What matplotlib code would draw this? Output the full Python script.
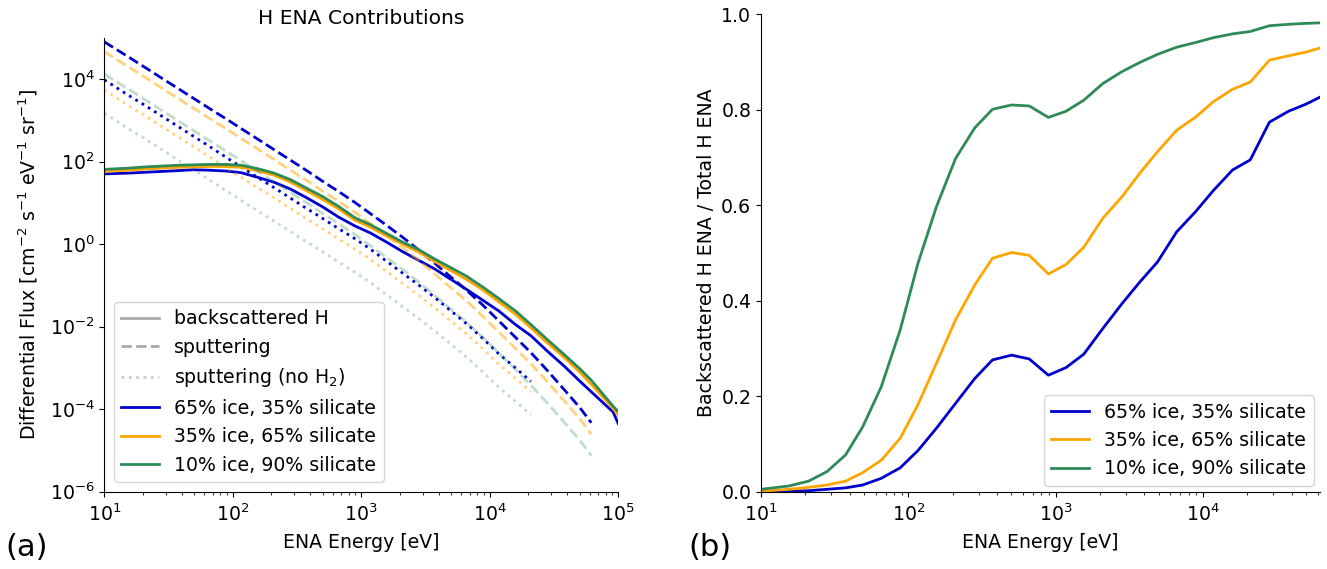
import numpy as np
import matplotlib
matplotlib.use("Agg")
import matplotlib.pyplot as plt
from matplotlib.lines import Line2D

# ENA energy grid [eV]
energy = [10, 15.5, 21, 28, 37.5, 49, 65.5, 88, 116, 155, 209, 282, 372, 501, 661,
          891, 1175, 1549, 2089, 2818, 3715, 4898, 6607, 8913, 11750, 15850, 20890,
          28180, 38020, 50120, 61700]
# backscattered H extends a bit further
energy_back = energy + [91200, 100000]
# no-H2 sputtering stops at ~2e4 eV
energy_noh2 = energy[:27]

labels = ["65% ice, 35% silicate", "35% ice, 65% silicate", "10% ice, 90% silicate"]
colors = ["mediumblue", "orange", "seagreen"]
sput_alpha = [1.0, 0.5, 0.3]

# log10 of differential flux
back_log = [
    [1.70, 1.72, 1.74, 1.76, 1.78, 1.80, 1.79, 1.77, 1.73, 1.62, 1.50, 1.33, 1.13, 0.90, 0.66,
     0.44, 0.27, 0.06, -0.18, -0.40, -0.60, -0.84, -1.10, -1.37, -1.62, -1.95, -2.22,
     -2.60, -2.96, -3.32, -3.58, -4.07, -4.35],
    [1.76, 1.79, 1.82, 1.84, 1.86, 1.87, 1.88, 1.88, 1.86, 1.78, 1.67, 1.50, 1.30, 1.08, 0.86,
     0.58, 0.41, 0.21, 0.00, -0.20, -0.42, -0.63, -0.86, -1.12, -1.40, -1.70, -2.03,
     -2.40, -2.75, -3.10, -3.40, -3.98, -4.15],
    [1.81, 1.84, 1.87, 1.89, 1.91, 1.92, 1.93, 1.93, 1.91, 1.83, 1.72, 1.56, 1.36, 1.15, 0.92,
     0.64, 0.47, 0.27, 0.05, -0.14, -0.36, -0.56, -0.78, -1.05, -1.32, -1.62, -1.95,
     -2.32, -2.68, -3.02, -3.30, -3.93, -4.06],
]
sput_log = [
    [4.90, 4.53, 4.27, 4.02, 3.77, 3.54, 3.29, 3.04, 2.80, 2.55, 2.29, 2.03, 1.79, 1.52, 1.28,
     1.01, 0.74, 0.47, 0.17, -0.15, -0.46, -0.78, -1.12, -1.49, -1.86, -2.26, -2.63,
     -3.07, -3.53, -3.96, -4.33],
    [4.66, 4.29, 4.03, 3.78, 3.53, 3.30, 3.05, 2.80, 2.56, 2.31, 2.05, 1.79, 1.55, 1.28, 1.04,
     0.77, 0.50, 0.23, -0.08, -0.40, -0.72, -1.04, -1.38, -1.76, -2.13, -2.53, -2.90,
     -3.34, -3.80, -4.23, -4.61],
    [4.12, 3.75, 3.49, 3.24, 2.99, 2.76, 2.51, 2.26, 2.02, 1.77, 1.51, 1.25, 1.01, 0.74, 0.50,
     0.23, -0.04, -0.31, -0.61, -0.93, -1.24, -1.56, -1.90, -2.27, -2.64, -3.04, -3.42,
     -3.86, -4.32, -4.75, -5.13],
]
noh2_log = [
    [3.98, 3.60, 3.35, 3.10, 2.85, 2.62, 2.37, 2.11, 1.87, 1.62, 1.37, 1.11, 0.87, 0.62, 0.38,
     0.13, -0.12, -0.40, -0.70, -1.00, -1.29, -1.60, -1.93, -2.30, -2.66, -3.00, -3.33],
    [3.73, 3.35, 3.10, 2.85, 2.60, 2.37, 2.12, 1.86, 1.62, 1.37, 1.12, 0.86, 0.62, 0.37, 0.13,
     -0.12, -0.37, -0.65, -0.95, -1.25, -1.54, -1.85, -2.18, -2.55, -2.91, -3.25, -3.58],
    [3.17, 2.79, 2.54, 2.29, 2.04, 1.81, 1.56, 1.30, 1.06, 0.81, 0.56, 0.30, 0.06, -0.19, -0.43,
     -0.68, -0.93, -1.21, -1.51, -1.81, -2.10, -2.41, -2.74, -3.11, -3.47, -3.81, -4.14],
]

# backscattered / total ratio
ratio = [
    [0.0, 0.001, 0.002, 0.005, 0.008, 0.014, 0.028, 0.050, 0.086, 0.133, 0.185, 0.237, 0.276,
     0.286, 0.278, 0.244, 0.260, 0.288, 0.342, 0.394, 0.439, 0.481, 0.544, 0.587, 0.631,
     0.674, 0.695, 0.774, 0.797, 0.812, 0.826],
    [0.001, 0.005, 0.009, 0.014, 0.022, 0.040, 0.066, 0.112, 0.182, 0.269, 0.360, 0.433, 0.489,
     0.501, 0.495, 0.456, 0.476, 0.512, 0.573, 0.618, 0.667, 0.712, 0.757, 0.785, 0.817,
     0.843, 0.858, 0.904, 0.913, 0.921, 0.929],
    [0.005, 0.012, 0.022, 0.042, 0.077, 0.136, 0.220, 0.339, 0.478, 0.597, 0.698, 0.762, 0.801,
     0.810, 0.808, 0.784, 0.797, 0.820, 0.855, 0.880, 0.899, 0.916, 0.931, 0.941, 0.951,
     0.959, 0.964, 0.976, 0.979, 0.981, 0.982],
]

plt.rcParams['font.size'] = 13.6

fig = plt.figure(figsize=(13.27, 5.69), dpi=100)
ax = fig.add_axes([0.0786, 0.1359, 0.3873, 0.7978])
bx = fig.add_axes([0.5735, 0.1359, 0.4209, 0.8390])

# Left panel: flux contributions
for i in range(3):
    ax.plot(energy_back, 10 ** np.array(back_log[i]), color=colors[i], lw=2)
    ax.plot(energy, 10 ** np.array(sput_log[i]), color=colors[i], lw=2, ls='--',
            alpha=sput_alpha[i])
    ax.plot(energy_noh2, 10 ** np.array(noh2_log[i]), color=colors[i], lw=2, ls=':',
            alpha=sput_alpha[i])

ax.set_xscale('log')
ax.set_yscale('log')
ax.set_xlim(10, 1e5)
ax.set_ylim(1e-6, 1e5)
ax.set_yticks([1e-6, 1e-4, 1e-2, 1e0, 1e2, 1e4])
ax.yaxis.set_minor_locator(matplotlib.ticker.NullLocator())
ax.tick_params(axis='x', pad=5)
ax.set_title('H ENA Contributions', fontsize=14.6, pad=10)
ax.set_xlabel('ENA Energy [eV]', labelpad=6)
ax.set_ylabel(r'Differential Flux [cm$^{-2}$ s$^{-1}$ eV$^{-1}$ sr$^{-1}$]', labelpad=7)
ax.spines['top'].set_visible(False)
ax.spines['right'].set_visible(False)

handles = [
    Line2D([], [], color='darkgray', lw=2, ls='-'),
    Line2D([], [], color='darkgray', lw=2, ls='--'),
    Line2D([], [], color='darkgray', lw=2, ls=':', alpha=0.6),
]
handles += [Line2D([], [], color=c, lw=2) for c in colors]
ax.legend(handles, ['backscattered H', 'sputtering', 'sputtering (no H$_2$)'] + labels,
          loc='lower left')

# Right panel: backscattered fraction
for i in range(3):
    bx.plot(energy, ratio[i], color=colors[i], lw=2, label=labels[i])

bx.set_xscale('log')
bx.set_xlim(10, energy[-1])
bx.set_ylim(0, 1)
bx.tick_params(axis='x', pad=5)
bx.set_xlabel('ENA Energy [eV]', labelpad=6)
bx.set_ylabel('Backscattered H ENA / Total H ENA')
bx.spines['top'].set_visible(False)
bx.spines['right'].set_visible(False)
bx.legend(loc='lower right', borderaxespad=0.3)

fig.text(0.004, 0.022, '(a)', fontsize=22)
fig.text(0.519, 0.022, '(b)', fontsize=22)

fig.savefig('out.png', dpi=100)
